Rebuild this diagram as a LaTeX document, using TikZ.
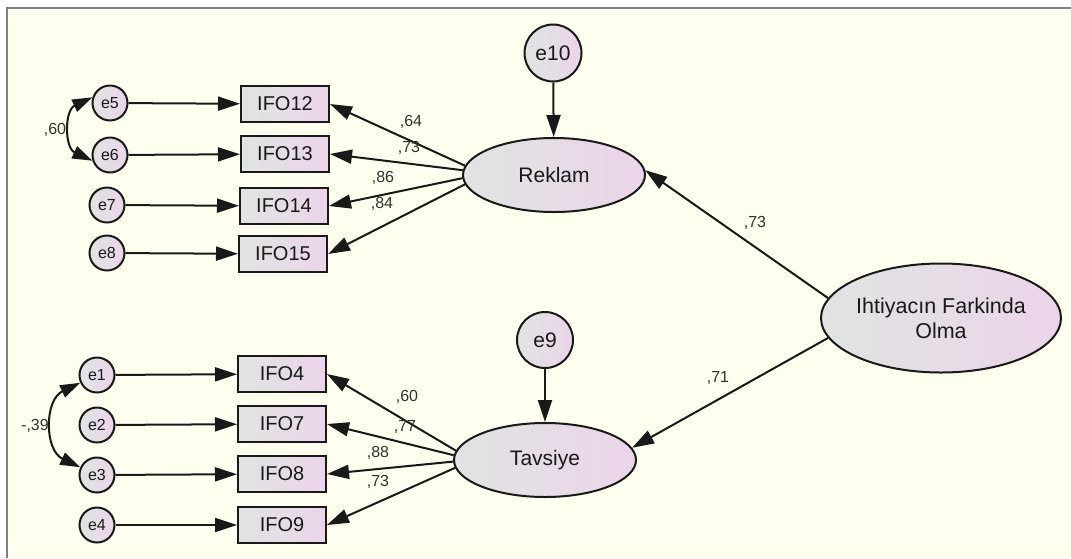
\documentclass[tikz,border=0pt]{standalone}
\usepackage{fontspec}
\setmainfont{Liberation Sans}
\usetikzlibrary{arrows.meta,shapes.geometric}
\definecolor{paper}{RGB}{254,255,238}
\definecolor{framegray}{RGB}{128,128,128}
\definecolor{fillL}{RGB}{224,228,226}
\definecolor{fillR}{RGB}{236,212,234}
\definecolor{ink}{RGB}{25,25,25}
\definecolor{lbl}{RGB}{50,50,50}
\tikzset{
  shadefill/.style={left color=fillL, right color=fillR, draw=ink, line width=2pt, text=ink},
  errnode/.style={shadefill, circle, inner sep=0pt, minimum size=35pt, font=\fontsize{16}{18}\selectfont},
  bigerr/.style={shadefill, circle, inner sep=0pt, minimum size=57pt, font=\fontsize{21}{23}\selectfont},
  obsnode/.style={shadefill, rectangle, inner sep=0pt, minimum width=88pt, minimum height=36pt, font=\fontsize{20}{22}\selectfont},
  latnode/.style={shadefill, ellipse, inner sep=0pt, minimum width=182pt, minimum height=74pt, font=\fontsize{21}{23}\selectfont},
  coef/.style={text=lbl, inner sep=1pt, font=\fontsize{16}{18}\selectfont},
  tip/.tip={Triangle[length=22pt,width=14pt]},
  arr/.style={draw=ink, line width=2pt, -tip},
  dblarr/.style={draw=ink, line width=2pt, {Triangle[length=20pt,width=13pt]}-{Triangle[length=20pt,width=13pt]}}
}
\begin{document}
\begin{tikzpicture}[x=1pt,y=-1pt]
  % canvas and frame
  \useasboundingbox (0,0) rectangle (1071,558);
  \fill[white] (0,0) rectangle (1071,558);
  \fill[paper] (7,8) rectangle (1071,558);
  \draw[framegray, line width=2pt] (7,558) -- (7,8) -- (1071,8);

  % Reklam block
  \node[errnode] (e5) at (110,103) {e5};
  \node[errnode] (e6) at (110,155) {e6};
  \node[errnode] (e7) at (107,205) {e7};
  \node[errnode] (e8) at (107,253) {e8};
  \node[obsnode] (IFO12) at (285,104) {IFO12};
  \node[obsnode] (IFO13) at (285,154) {IFO13};
  \node[obsnode] (IFO14) at (284,206) {IFO14};
  \node[obsnode] (IFO15) at (283,254) {IFO15};
  \node[bigerr] (e10) at (553,53) {e10};
  \node[latnode] (Reklam) at (554,175) {Reklam};

  % Tavsiye block
  \node[errnode] (e1) at (97,375) {e1};
  \node[errnode] (e2) at (97,425) {e2};
  \node[errnode] (e3) at (97,475) {e3};
  \node[errnode] (e4) at (97,525) {e4};
  \node[obsnode] (IFO4) at (282,374) {IFO4};
  \node[obsnode] (IFO7) at (282,424) {IFO7};
  \node[obsnode] (IFO8) at (282,474) {IFO8};
  \node[obsnode] (IFO9) at (282,525) {IFO9};
  \node[bigerr, minimum size=56pt] (e9) at (545,340) {e9};
  \node[latnode] (Tavsiye) at (545,460) {Tavsiye};

  % second-order factor
  \node[shadefill, ellipse, inner sep=0pt, minimum width=229pt, minimum height=109pt,
        align=center, font=\fontsize{21.5}{25}\selectfont] (IFO) at (941,318) {Ihtiyacın Farkinda\\Olma};

  % error terms to indicators
  \foreach \e/\o in {e5/IFO12, e6/IFO13, e7/IFO14, e8/IFO15, e1/IFO4, e2/IFO7, e3/IFO8, e4/IFO9}
    \draw[arr] (\e) -- (\o);

  % factor loadings
  \foreach \a/\o in {174/IFO12, 177/IFO13, 182/IFO14, 186/IFO15}
    \draw[arr] (Reklam.\a) -- (\o.east);
  \foreach \a/\o in {174/IFO4, 177/IFO7, 181/IFO8, 185/IFO9}
    \draw[arr] (Tavsiye.\a) -- (\o.east);

  % disturbances
  \draw[arr] (e10) -- (Reklam);
  \draw[arr] (e9) -- (Tavsiye);

  % structural paths
  \draw[arr] (IFO.170) -- (Reklam.3);
  \draw[arr] (IFO.190) -- (Tavsiye.8);

  % error covariances (y grows downwards here)
  \draw[dblarr] (e5.162) .. controls +(-28,13) and +(-28,-13) .. (e6.198);
  \draw[dblarr] (e1.205) .. controls +(-36,17) and +(-36,-17) .. (e3.155);

  % coefficients
  \node[coef] (c64) at (411,122) {,64};
  \node[coef] (c73a) at (409,148) {,73};
  \node[coef] (c86) at (383,178) {,86};
  \node[coef] (c84) at (382,204) {,84};
  \node[coef] (c60) at (407,397) {,60};
  \node[coef] (c77) at (405,427) {,77};
  \node[coef] (c88) at (378,453) {,88};
  \node[coef] (c73b) at (378,482) {,73};
  \node[coef] (c73c) at (755,223) {,73};
  \node[coef] (c71) at (718,378) {,71};
  \node[coef] (cv60) at (55,130) {,60};
  \node[coef] (cv39) at (35,426) {-,39};
\end{tikzpicture}
\end{document}
